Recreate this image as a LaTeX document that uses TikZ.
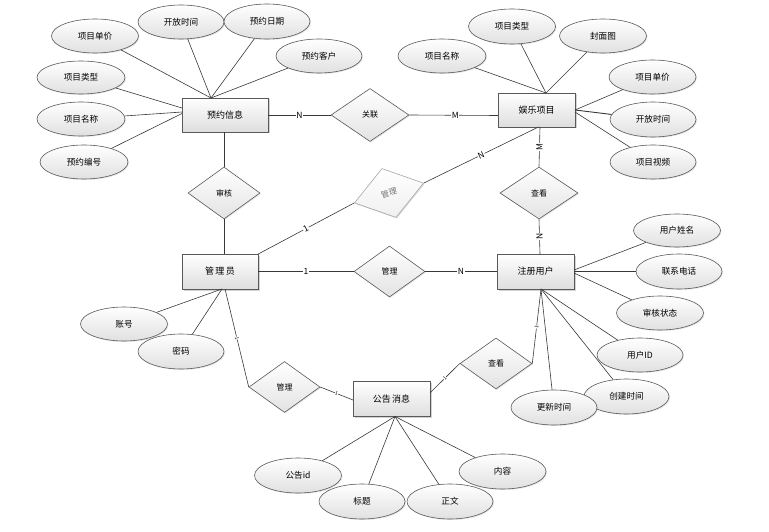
\documentclass[tikz,border=0pt]{standalone}
\usepackage{fontspec}
\setmainfont{Noto Sans CJK SC}
\usetikzlibrary{shapes.geometric,shadows}
\begin{document}
\begin{tikzpicture}[x=1pt,y=-1pt,
  ent/.style={rectangle, draw=black!65, line width=0.7pt, top color=white, bottom color=black!13,
    minimum width=77pt, minimum height=35pt, inner sep=0pt, font=\fontsize{9}{10}\selectfont,
    drop shadow={shadow xshift=1.5pt, shadow yshift=-1.5pt, opacity=0.35}},
  attr/.style={ellipse, draw=black!65, line width=0.6pt, top color=white, bottom color=black!12,
    minimum width=87pt, minimum height=34pt, inner sep=0pt, font=\fontsize{8.6}{10}\selectfont,
    drop shadow={shadow xshift=1pt, shadow yshift=-1pt, opacity=0.2}},
  rel/.style={diamond, draw=black!65, line width=0.6pt, top color=white, bottom color=black!11,
    inner sep=0pt, font=\fontsize{8}{9}\selectfont,
    drop shadow={shadow xshift=1pt, shadow yshift=-1pt, opacity=0.2}},
  grel/.style={rel, draw=black!35, text=black!55, top color=white, bottom color=black!6,
    drop shadow={shadow xshift=1pt, shadow yshift=-1pt, opacity=0.1}},
  conn/.style={draw=black!78, line width=0.6pt},
  lab/.style={font=\fontsize{8.5}{9}\selectfont, fill=white, inner sep=0.6pt},
  tick/.style={font=\fontsize{5}{5}\selectfont, fill=white, inner sep=0.2pt}]
\useasboundingbox (0,0) rectangle (769,532);

% entities
\node[ent, minimum width=86pt, minimum height=34pt] (yy) at (225,115) {预约信息};
\node[ent, minimum height=34pt] (yl) at (536.5,110) {娱乐项目};
\node[ent, minimum width=76pt] (gly) at (220,271.5) {管\,理\,员};
\node[ent] (zc) at (535.5,271.5) {注册用户};
\node[ent] (gg) at (391.5,399) {公告\,消息};

% relationships
\node[rel, minimum width=78pt, minimum height=53pt] (gl) at (370,115) {关联};
\node[rel, minimum width=72pt, minimum height=52pt] (sh) at (224,193) {审核};
\node[grel, minimum width=72pt, minimum height=51pt, rotate=16] (gl2) at (389,193) {管理};
\node[rel, minimum width=71pt, minimum height=51pt] (gl3) at (389.5,271.5) {管理};
\node[rel, minimum width=78pt, minimum height=52pt] (ck1) at (539,193) {查看};
\node[rel, minimum width=71pt, minimum height=51pt] (gl4) at (284.5,387) {管理};
\node[rel, minimum width=72pt, minimum height=51pt] (ck2) at (496,363.5) {查看};

% attributes of 预约信息
\node[attr] (a1) at (95,36) {项目单价};
\node[attr, minimum width=86pt] (a2) at (181,22) {开放时间};
\node[attr, minimum width=86pt, minimum height=35pt] (a3) at (267,21.5) {预约日期};
\node[attr, minimum width=86pt] (a4) at (319,56) {预约客户};
\node[attr, minimum width=88pt, minimum height=33pt] (a5) at (81,77.5) {项目类型};
\node[attr, minimum width=88pt] (a6) at (81,119) {项目名称};
\node[attr, minimum width=88pt] (a7) at (84,162) {预约编号};

% attributes of 娱乐项目
\node[attr, minimum height=35pt] (b1) at (512,26.5) {项目类型};
\node[attr] (b2) at (603,36) {封面图};
\node[attr, minimum width=88pt] (b3) at (442,56) {项目名称};
\node[attr] (b4) at (652.5,77) {项目单价};
\node[attr, minimum width=86pt, minimum height=35pt] (b5) at (653,119.5) {开放时间};
\node[attr, minimum width=86pt] (b6) at (653,162) {项目视频};

% attributes of 注册用户
\node[attr, minimum height=33pt] (c1) at (677,230.5) {用户姓名};
\node[attr, minimum width=86pt, minimum height=35pt] (c2) at (679,271.5) {联系电话};
\node[attr] (c3) at (660,313) {审核状态};
\node[attr, minimum width=86pt] (c4) at (640,355) {用户ID};
\node[attr, minimum width=85pt, minimum height=35pt] (c5) at (626.5,396.5) {创建时间};
\node[attr, minimum width=86pt, minimum height=35pt] (c6) at (554,407.5) {更新时间};

% attributes of 管理员
\node[attr] (d1) at (124,324) {账号};
\node[attr, minimum width=86pt, minimum height=35pt] (d2) at (181,351.5) {密码};

% attributes of 公告消息
\node[attr, minimum height=35pt] (e1) at (298,475.5) {公告id};
\node[attr, minimum width=86pt, minimum height=35pt] (e2) at (362,501.5) {标题};
\node[attr, minimum width=86pt, minimum height=35pt] (e3) at (450,501.5) {正文};
\node[attr, minimum height=35pt] (e4) at (502.5,471.5) {内容};

% connection points on entity borders
\coordinate (yyT) at (211,98);
\coordinate (yyL1) at (182,108);
\coordinate (yyL2) at (182,112);
\coordinate (yyL3) at (182,113.5);
\coordinate (yyR) at (268,115);
\coordinate (yyB) at (224,132);
\coordinate (ylT) at (546,93);
\coordinate (ylR1) at (575,110);
\coordinate (ylR2) at (575,112);
\coordinate (ylL) at (498,115.5);
\coordinate (ylB1) at (540,127);
\coordinate (ylB2) at (538.5,127);
\coordinate (glyT) at (224,254);
\coordinate (glyTR) at (257.7,254.3);
\coordinate (glyB1) at (222,289);
\coordinate (glyB2) at (225,289);
\coordinate (zcT) at (540,254);
\coordinate (zcR1) at (574,270);
\coordinate (zcR2) at (574,271.5);
\coordinate (zcR3) at (574,273);
\coordinate (zcB) at (541,289);
\coordinate (ggR) at (430,393);
\coordinate (ggL) at (353,400);
\coordinate (ggB) at (395,416.5);

% attribute connectors
\foreach \a in {a1,a2,a3,a4} \draw[conn] (\a) -- (yyT);
\draw[conn] (a5) -- (yyL1);
\draw[conn] (a6) -- (yyL2);
\draw[conn] (a7) -- (yyL3);
\foreach \b in {b1,b2,b3} \draw[conn] (\b) -- (ylT);
\draw[conn] (b4) -- (ylR1);
\draw[conn, line width=0.9pt] (b5) -- (ylR1);
\draw[conn] (b6) -- (ylR2);
\draw[conn] (c1) -- (zcR1);
\draw[conn] (c2) -- (zcR2);
\draw[conn] (c3) -- (zcR3);
\foreach \c in {c4,c5,c6} \draw[conn] (\c) -- (zcB);
\draw[conn] (d1) -- (glyB1);
\draw[conn] (d2) -- (glyB1);
\foreach \e in {e1,e2,e3,e4} \draw[conn] (\e) -- (ggB);

% relationship connectors
\draw[conn] (yyR) -- (gl.west) node[lab, pos=0.5] {N};
\draw[conn] (gl.east) -- (ylL) node[lab, pos=0.52] {M};
\draw[conn] (yyB) -- (sh.north);
\draw[conn] (sh.south) -- (glyT);
\draw[conn] (ylB2) -- (gl2.east) node[lab, pos=0.5, rotate=25] {N};
\draw[conn] (glyTR) -- (gl2.west) node[lab, pos=0.5, rotate=28] {1};
\draw[conn] (ylB1) -- (ck1.north) node[lab, pos=0.5, rotate=90] {M};
\draw[conn] (ck1.south) -- (zcT) node[lab, pos=0.5, rotate=90] {N};
\draw[conn] (gly.east) -- (gl3.west) node[lab, pos=0.5] {1};
\draw[conn] (gl3.east) -- (zc.west) node[lab, pos=0.5] {N};
\draw[conn] (glyB2) -- (gl4.west) node[tick, pos=0.5, rotate=-76] {1};
\draw[conn] (gl4.east) -- (ggL) node[tick, pos=0.5, rotate=-22] {1};
\draw[conn] (ck2.east) -- (zcB) node[tick, pos=0.49, rotate=82] {1};
\draw[conn] (ck2.west) -- (ggR) node[tick, pos=0.5, rotate=46] {1};
\end{tikzpicture}
\end{document}
